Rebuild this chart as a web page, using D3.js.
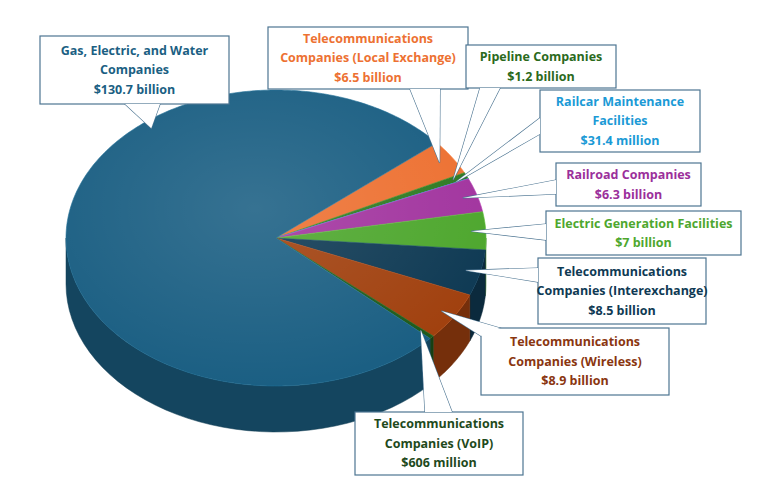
<!DOCTYPE html>
<html><head><meta charset="utf-8">
<script src="https://cdn.jsdelivr.net/npm/d3@7"></script>
<style>body{margin:0;background:#fff}svg{display:block}</style>
</head><body>
<svg id="chart" width="768" height="496"></svg>
<script>
// slice order runs clockwise from the top right
var categories = ["Telecommunications Companies (Local Exchange)", "Pipeline Companies", "Railcar Maintenance Facilities", "Railroad Companies", "Electric Generation Facilities", "Telecommunications Companies (Interexchange)", "Telecommunications Companies (Wireless)", "Telecommunications Companies (VoIP)", "Gas, Electric, and Water Companies"]
var values = [6.5, 1.2, 0.0314, 6.3, 7, 8.5, 8.9, 0.606, 130.7]   // $ billion
var valueLabels = ["$6.5 billion", "$1.2 billion", "$31.4 million", "$6.3 billion", "$7 billion", "$8.5 billion", "$8.9 billion", "$606 million", "$130.7 billion"]
var labelLines = [["Telecommunications","Companies (Local Exchange)"],["Pipeline Companies"],["Railcar Maintenance","Facilities"],["Railroad Companies"],["Electric Generation Facilities"],["Telecommunications","Companies (Interexchange)"],["Telecommunications","Companies (Wireless)"],["Telecommunications","Companies (VoIP)"],["Gas, Electric, and Water","Companies"]]

var colors = ["#ed7132","#2f7a22","#1b9ad6","#a2359f","#4ea72e","#0f3a54","#a1410f","#1f5a1c","#1b5f83"]
var textColors = ["#ed7132","#2b6a1c","#1b9ad6","#9b2f9b","#4ea72e","#0f3a54","#8a3610","#1f4a1c","#1b5f83"]

// box x,y,w,h ; pointer base points
var boxes = [
  {x:268,y:27,w:200,h:62, b:[[410,89],[440,89]]},
  {x:466,y:45,w:150,h:43, b:[[480,88],[500,88]]},
  {x:540,y:90,w:160,h:62, b:[[540,118],[540,134]]},
  {x:556,y:163,w:145,h:43, b:[[556,180],[556,194]]},
  {x:546,y:211,w:195,h:44, b:[[546,224],[546,240]]},
  {x:538,y:258,w:168,h:66, b:[[538,268],[538,282]]},
  {x:481,y:328,w:188,h:67, b:[[481,336],[500,328]]},
  {x:355,y:412,w:168,h:63, b:[[425,412],[452,412]]},
  {x:40,y:36,w:189,h:68, b:[[125,104],[160,104]]}
]

var svg = d3.select("#chart")
var cx = 276, cy = 238, rx = 210, ry = 148, depth = 46

var pie = d3.pie().sort(null).value(function(d){return d})
  .startAngle(50*Math.PI/180).endAngle(50*Math.PI/180 + 2*Math.PI)
var arcs = pie(values)

function pt(a, f, dy){ return [cx + rx*f*Math.sin(a), cy - ry*f*Math.cos(a) + (dy||0)] }
var line = d3.line()

// side walls (front half only)
arcs.forEach(function(d,i){
  var segs = []
  for (var k=-1;k<=1;k++){
    var lo = Math.max(d.startAngle, Math.PI/2 + k*2*Math.PI), hi = Math.min(d.endAngle, 3*Math.PI/2 + k*2*Math.PI)
    if (hi > lo) segs.push([lo,hi])
  }
  segs.forEach(function(s){
    var top = d3.range(0,41).map(function(j){return pt(s[0]+(s[1]-s[0])*j/40,1)})
    var bot = top.slice().reverse().map(function(p){return [p[0],p[1]+depth]})
    svg.append("path").attr("d", line(top.concat(bot))+"Z")
      .attr("fill", d3.color(colors[i]).darker(0.9)).attr("stroke", d3.color(colors[i]).darker(1.2)).attr("stroke-width",0.5)
  })
})

// top faces
var grad = svg.append("defs").append("radialGradient").attr("id","shine").attr("cx","45%").attr("cy","40%").attr("r","60%")
grad.append("stop").attr("offset","0%").attr("stop-color","#fff").attr("stop-opacity",0.12)
grad.append("stop").attr("offset","100%").attr("stop-color","#fff").attr("stop-opacity",0)
arcs.forEach(function(d,i){
  var n = Math.max(2, Math.ceil((d.endAngle-d.startAngle)*60))
  var pts = [[cx,cy]].concat(d3.range(0,n+1).map(function(j){return pt(d.startAngle+(d.endAngle-d.startAngle)*j/n,1)}))
  svg.append("path").attr("d", line(pts)+"Z").attr("fill", colors[i])
    .attr("stroke", d3.color(colors[i]).brighter(0.4)).attr("stroke-width",0.6)
})
svg.append("ellipse").attr("cx",cx).attr("cy",cy).attr("rx",rx).attr("ry",ry).attr("fill","url(#shine)")

// callouts
arcs.forEach(function(d,i){
  var b = boxes[i]
  var mid = (d.startAngle+d.endAngle)/2
  var tip = i==8 ? pt(d.startAngle + 0.68*(d.endAngle-d.startAngle), 0.95) : pt(mid, 0.93)
  var tri = [b.b[0], tip, b.b[1]]
  var g = svg.append("g")
  g.append("path").attr("d", line(tri)+"Z").attr("fill","#fff").attr("stroke","#4d7592").attr("stroke-width",1.2)
  g.append("rect").attr("x",b.x).attr("y",b.y).attr("width",b.w).attr("height",b.h)
    .attr("fill","#fff").attr("stroke","#4d7592").attr("stroke-width",1.2)
  g.append("path").attr("d", line(tri)+"Z").attr("fill","#fff")
  var lines = labelLines[i].concat([valueLabels[i]])
  var lh = 19.5, y0 = b.y + b.h/2 - (lines.length-1)*lh/2
  lines.forEach(function(t,k){
    g.append("text").attr("x", b.x+b.w/2).attr("y", y0+k*lh).attr("dy","0.35em")
      .attr("text-anchor","middle").attr("font-family","'Open Sans', sans-serif")
      .attr("font-weight","bold").attr("font-size","12.5px").attr("fill", textColors[i]).text(t)
  })
})
</script>
</body></html>
